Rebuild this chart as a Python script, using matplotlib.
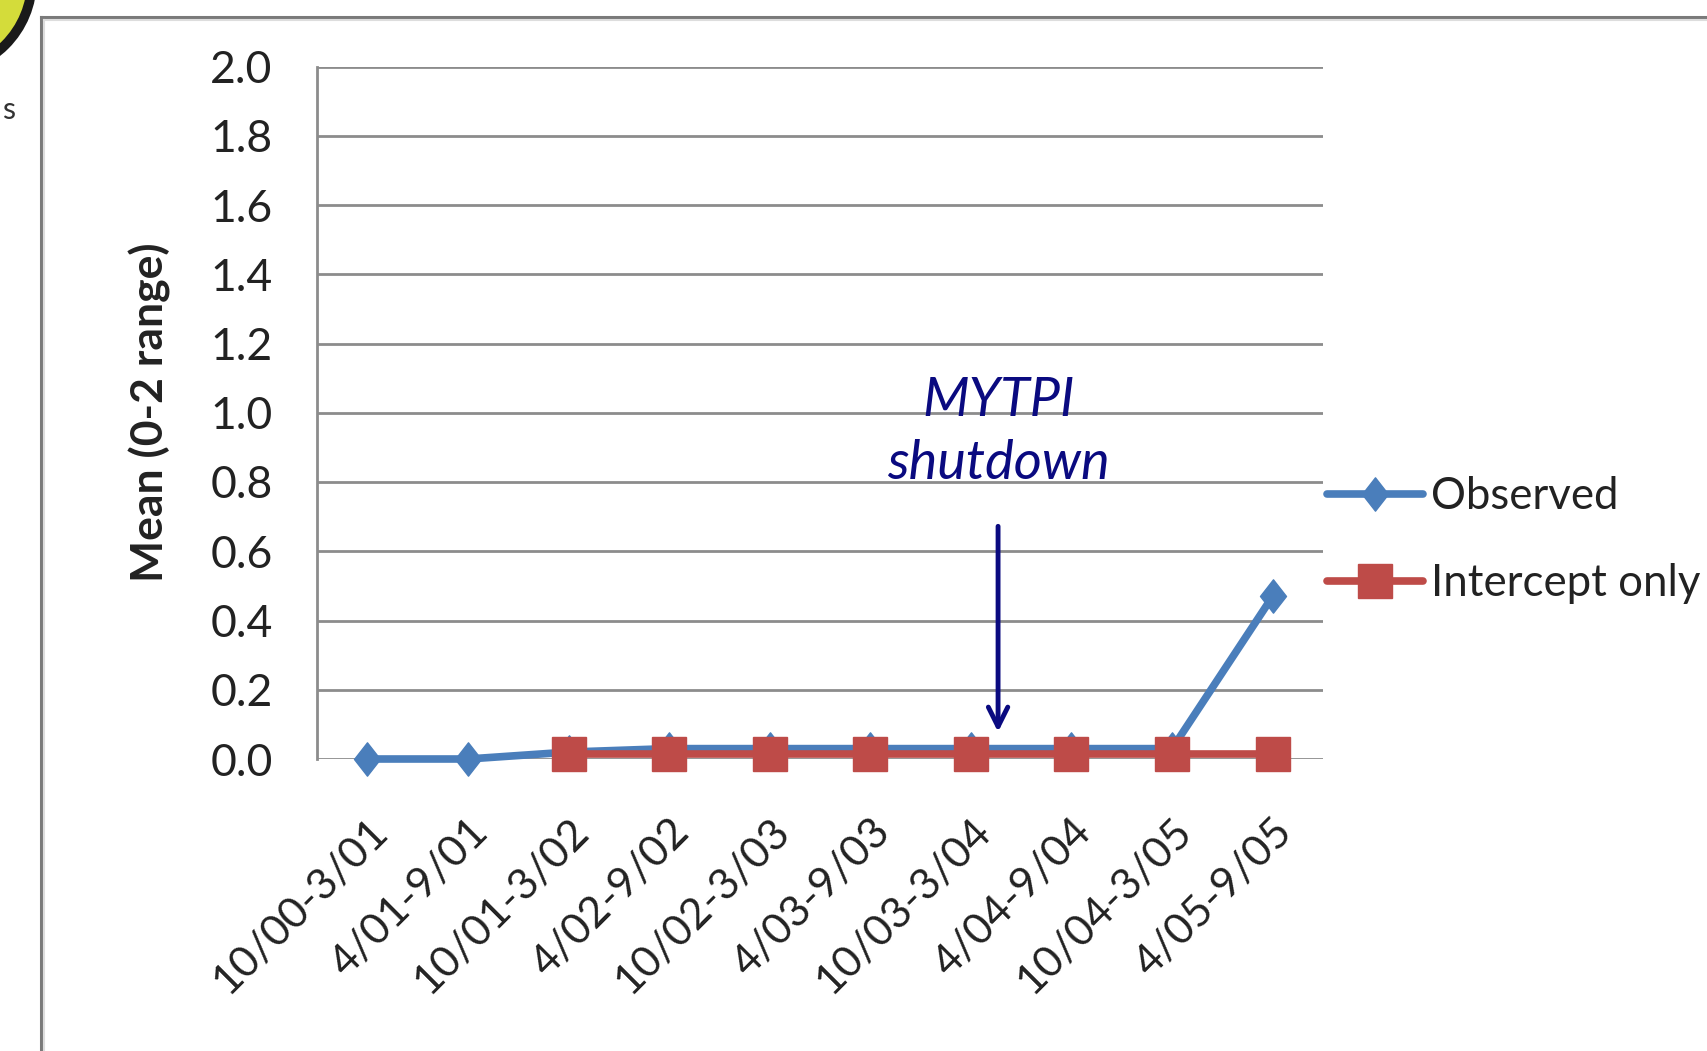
import matplotlib
matplotlib.use("Agg")
import matplotlib.pyplot as plt
from matplotlib.path import Path
from matplotlib.patches import Circle
from matplotlib.lines import Line2D

plt.rcParams['font.family'] = ['Lato', 'DejaVu Sans']

# Six-month periods
periods = ["10/00-3/01", "4/01-9/01", "10/01-3/02", "4/02-9/02", "10/02-3/03",
           "4/03-9/03", "10/03-3/04", "4/04-9/04", "10/04-3/05", "4/05-9/05"]
observed = [0.0, 0.0, 0.02, 0.03, 0.03, 0.03, 0.03, 0.03, 0.03, 0.47]
intercept_periods = periods[2:]
intercept_only = [0.015, 0.015, 0.015, 0.015, 0.015, 0.015, 0.015, 0.015]
y_ticks = [0.0, 0.2, 0.4, 0.6, 0.8, 1.0, 1.2, 1.4, 1.6, 1.8, 2.0]

blue = "#4A7EBB"
red = "#BE4B48"
grid_gray = "#8C8C8C"
text_col = "#222222"
W, H = 1708, 1051

fig = plt.figure(figsize=(W / 100, H / 100), dpi=100)
fig.patch.set_facecolor("white")

# Frame of the chart area
fig.add_artist(Line2D([41 / W, 1.0], [1 - 17 / H, 1 - 17 / H], color="#7A7A7A", lw=2.2))
fig.add_artist(Line2D([41 / W, 41 / W], [0.0, 1 - 17 / H], color="#7A7A7A", lw=2.2))
fig.add_artist(Line2D([44 / W, 1.0], [1 - 20 / H, 1 - 20 / H], color="#DDDDDD", lw=1.5))
fig.add_artist(Line2D([44 / W, 44 / W], [0.0, 1 - 20 / H], color="#DDDDDD", lw=1.5))

# Logo corner in the top-left
logo_ax = fig.add_axes([0, 0, 1, 1], facecolor="none")
logo_ax.set_xlim(0, W)
logo_ax.set_ylim(H, 0)
logo_ax.axis("off")
logo_ax.add_patch(Circle((-60, -20), 92, facecolor="#D4DC3A", edgecolor="#1A1A1A", lw=7))
logo_ax.text(2, 110, "s", fontsize=22, color="#333333", va="center", ha="left")

ax = fig.add_axes([317 / W, 1 - 759 / H, (1323 - 317) / W, (759 - 66.5) / H])
x_obs = list(range(len(periods)))
x_int = [periods.index(p) for p in intercept_periods]

diamond = Path([(0, 1), (0.78, 0), (0, -1), (-0.78, 0), (0, 1)],
               [Path.MOVETO, Path.LINETO, Path.LINETO, Path.LINETO, Path.CLOSEPOLY])

ax.plot(x_obs, observed, color=blue, lw=5.5, marker=diamond, markersize=24,
        markerfacecolor=blue, markeredgecolor=blue, clip_on=False, zorder=3,
        label="Observed", solid_capstyle="round")
ax.plot(x_int, intercept_only, color=red, lw=5.5, marker="s", markersize=24,
        markerfacecolor=red, markeredgecolor=red, clip_on=False, zorder=4,
        label="Intercept only", solid_capstyle="round")

ax.set_xlim(-0.5, len(periods) - 0.5)
ax.set_ylim(0, 2.0)
ax.set_yticks(y_ticks)
ax.set_yticklabels([f"{v:.1f}" for v in y_ticks], fontsize=32, color=text_col)
ax.set_xticks(x_obs)
ax.set_xticklabels(periods, fontsize=31, color=text_col, rotation=45,
                   ha="right", va="top", rotation_mode="anchor")
ax.tick_params(axis="both", length=0)
ax.tick_params(axis="y", pad=32)
ax.tick_params(axis="x", pad=38)

ax.grid(axis="y", color=grid_gray, lw=2.0, zorder=0)
ax.set_axisbelow(True)
for side in ["top", "right", "bottom"]:
    ax.spines[side].set_visible(False)
ax.spines["left"].set_color(grid_gray)
ax.spines["left"].set_linewidth(2.0)

ax.set_ylabel("Mean (0-2 range)", fontsize=32, fontweight="bold", color=text_col)
ax.yaxis.set_label_coords(-0.145, 0.5)

# Shutdown annotation
ax.annotate("", xy=(6.27, 0.07), xytext=(6.27, 0.68),
            arrowprops=dict(arrowstyle="->", color="#0A0A80", lw=3.5,
                            mutation_scale=35))
ax.text(6.27, 0.945, "MYTPI\nshutdown", fontsize=39, style="italic",
        color="#0A0A80", ha="center", va="center", linespacing=1.36)

leg = ax.legend(loc="center left", bbox_to_anchor=(1327 / W, 1 - 540 / H),
                bbox_transform=fig.transFigure, frameon=False, fontsize=31.5,
                handlelength=2.2, handletextpad=0.18, labelspacing=1.05,
                borderaxespad=0, borderpad=0)
for t in leg.get_texts():
    t.set_color(text_col)

fig.savefig("out.png", dpi=100, facecolor="white")
